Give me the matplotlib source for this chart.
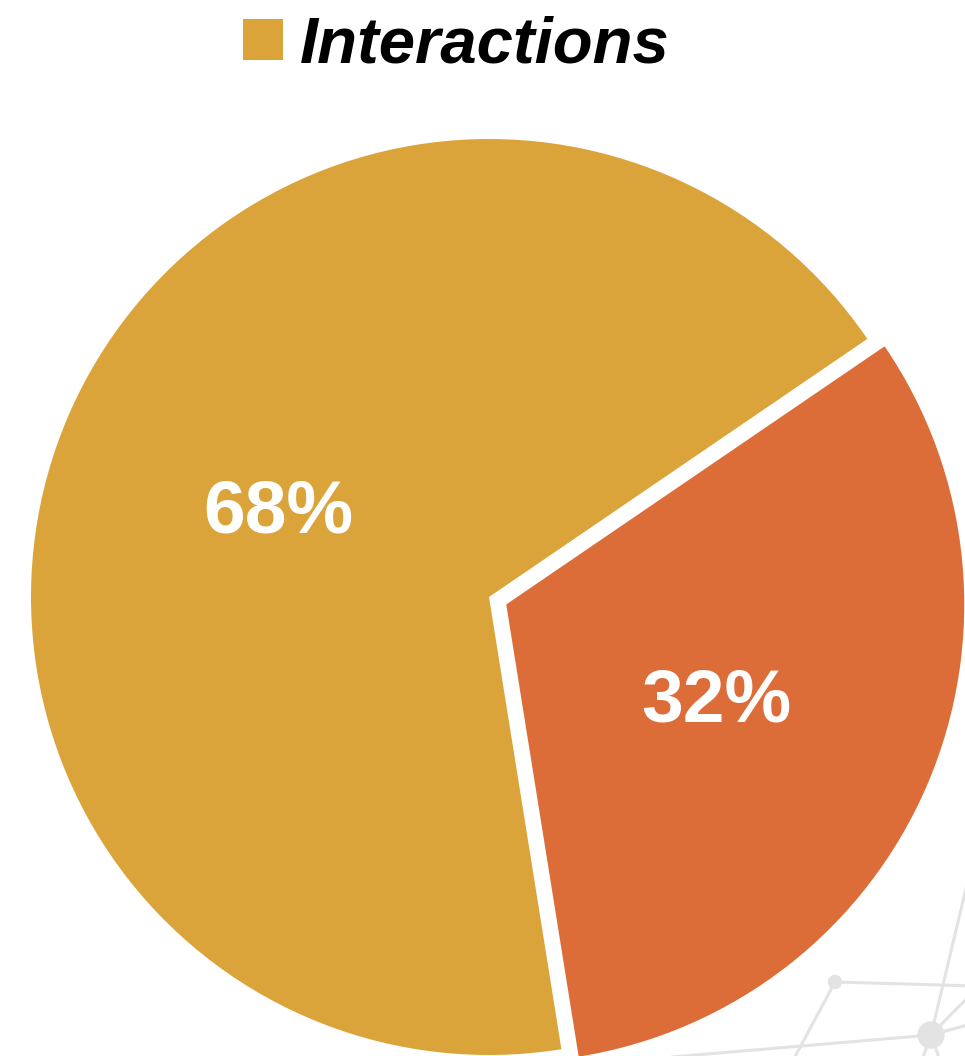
import matplotlib
matplotlib.use("Agg")
import matplotlib.pyplot as plt
from matplotlib.patches import Patch, Circle

plt.rcParams['font.family'] = ['Liberation Sans', 'DejaVu Sans']

# Data
categories = ["Interactions", "Other"]
shares = [68, 32]
colors = ["#DBA43A", "#DD6D38"]
explode = [0.0, 0.041]

W, H = 965, 1056
fig = plt.figure(figsize=(W / 100, H / 100), dpi=100)
fig.patch.set_facecolor("white")

# Decorative network in the lower-right corner (pixel coordinates)
bg = fig.add_axes([0, 0, 1, 1], zorder=0)
bg.set_xlim(0, W)
bg.set_ylim(H, 0)
bg.axis("off")
net_color = "#E3E3E3"
nodes = {"a": (835, 982), "b": (931, 1035)}
edges = [
    ((835, 982), (975, 986)),
    ((835, 982), (790, 1066)),
    ((660, 1058), (931, 1035)),
    ((931, 1035), (968, 880)),
    ((931, 1035), (975, 990)),
    ((931, 1035), (975, 1023)),
    ((931, 1035), (920, 1066)),
    ((931, 1035), (942, 1066)),
]
for (x0, y0), (x1, y1) in edges:
    bg.plot([x0, x1], [y0, y1], color=net_color, lw=2.2, solid_capstyle="round")
bg.add_patch(Circle(nodes["a"], 6.5, color=net_color))
bg.add_patch(Circle(nodes["b"], 13, color=net_color))

# Pie chart
cx, cy, R = 489, 597, 458
ax = fig.add_axes([0, 0, 1, 1], zorder=1)
ax.patch.set_alpha(0)
wedges, texts, autotexts = ax.pie(
    shares,
    colors=colors,
    explode=explode,
    startangle=34.3,
    counterclock=True,
    autopct="%1.0f%%",
    pctdistance=0.5,
    wedgeprops=dict(linewidth=0),
    textprops=dict(color="white", fontsize=54, fontweight="bold"),
)
# nudge the percentage labels slightly downward
for t in autotexts:
    x, y = t.get_position()
    t.set_position((x, y - 7 / R))
ax.set_xlim(-cx / R, (W - cx) / R)
ax.set_ylim(-(H - cy) / R, cy / R)
ax.set_aspect("equal", adjustable="datalim")
ax.axis("off")

# Legend (first series only)
handle = Patch(facecolor=colors[0], edgecolor="none")
leg = fig.legend(
    [handle], [categories[0]],
    loc="upper center",
    bbox_to_anchor=(456 / W, 1.0 + 17 / H),
    frameon=False,
    prop=dict(size=47, weight="bold", style="italic"),
    handlelength=0.61,
    handleheight=0.58,
    handletextpad=0.26,
    borderpad=0.0,
)

fig.savefig("out.png", dpi=100, facecolor="white")
